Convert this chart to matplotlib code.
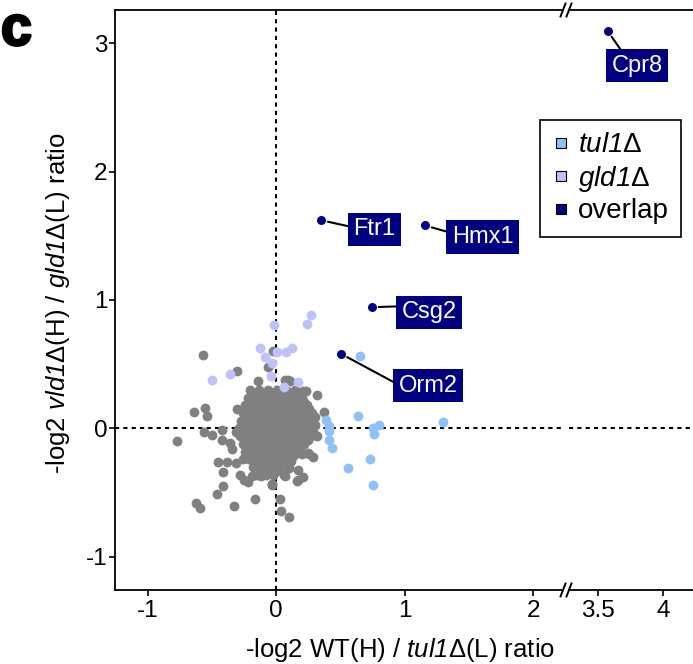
import matplotlib.pyplot as plt
import matplotlib.patheffects as pe
from matplotlib.lines import Line2D

plt.rcParams['font.family'] = ['Liberation Sans', 'DejaVu Sans']
plt.rcParams['mathtext.fontset'] = 'custom'
plt.rcParams['mathtext.rm'] = 'Liberation Sans'
plt.rcParams['mathtext.sf'] = 'Liberation Sans:italic'
plt.rcParams['axes.unicode_minus'] = False

# grey proteins: scattered ones
grey_x = [-0.57, -0.30, -0.14, -0.02, -0.06, 0.09, 0.23, 0.32, 0.37, 0.07,
          0.11, 0.21, -0.17, -0.12, -0.64, -0.55, -0.54, -0.30, -0.77, -0.56,
          -0.50, -0.42, -0.42, -0.36, -0.34, -0.45, -0.38, -0.31, -0.26, -0.41,
          -0.28, -0.25, -0.22, -0.19, -0.12, -0.05, -0.41, -0.46, -0.62, -0.59,
          -0.33, -0.16, -0.03, 0.03, 0.04, 0.10, 0.17, 0.21, 0.17, 0.20,
          0.25, 0.29, 0.32, 0.07, 0.10, 0.12, 0.23, 0.25, 0.26, 0.16,
          0.06, -0.03]
grey_y = [0.57, 0.45, 0.37, 0.60, 0.48, 0.38, 0.29, 0.26, 0.13, 0.38,
          0.37, 0.29, 0.25, 0.24, 0.13, 0.16, 0.10, 0.15, -0.10, -0.03,
          -0.05, -0.01, -0.09, -0.11, -0.16, -0.26, -0.26, -0.27, -0.24, -0.34,
          -0.36, -0.40, -0.42, -0.37, -0.37, -0.34, -0.45, -0.51, -0.58, -0.62,
          -0.60, -0.55, -0.44, -0.55, -0.64, -0.69, -0.40, -0.38, -0.32, -0.20,
          -0.19, -0.22, -0.06, -0.37, -0.31, -0.25, 0.16, 0.12, -0.20, -0.41,
          -0.36, -0.43]

# grey proteins: dense core, one row per y level
core_y = [0.30, 0.27, 0.24, 0.21, 0.18, 0.15, 0.12, 0.09, 0.06, 0.03, 0.00,
          -0.03, -0.06, -0.09, -0.12, -0.15, -0.18, -0.21, -0.24, -0.27,
          -0.30, -0.33, -0.36]
core_x = [
    [-0.20, -0.13, -0.06, 0.01, 0.08, 0.15],
    [-0.165, -0.095, -0.025, 0.045, 0.115, 0.185],
    [-0.22, -0.15, -0.08, -0.01, 0.06, 0.13, 0.20],
    [-0.205, -0.135, -0.065, 0.005, 0.075, 0.145, 0.215],
    [-0.24, -0.17, -0.10, -0.03, 0.04, 0.11, 0.18, 0.24],
    [-0.225, -0.155, -0.085, -0.015, 0.055, 0.125, 0.195, 0.26],
    [-0.26, -0.19, -0.12, -0.05, 0.02, 0.09, 0.16, 0.23, 0.28],
    [-0.235, -0.165, -0.095, -0.025, 0.045, 0.115, 0.185, 0.25, 0.30],
    [-0.27, -0.20, -0.13, -0.06, 0.01, 0.08, 0.15, 0.22, 0.28],
    [-0.255, -0.185, -0.115, -0.045, 0.025, 0.095, 0.165, 0.235, 0.30],
    [-0.29, -0.22, -0.15, -0.08, -0.01, 0.06, 0.13, 0.20, 0.27],
    [-0.31, -0.25, -0.185, -0.115, -0.045, 0.025, 0.095, 0.165, 0.235, 0.29],
    [-0.28, -0.21, -0.14, -0.07, 0.00, 0.07, 0.14, 0.21, 0.27],
    [-0.245, -0.175, -0.105, -0.035, 0.035, 0.105, 0.175, 0.245],
    [-0.26, -0.19, -0.12, -0.05, 0.02, 0.09, 0.16, 0.22],
    [-0.225, -0.155, -0.085, -0.015, 0.055, 0.125, 0.19],
    [-0.24, -0.17, -0.10, -0.03, 0.04, 0.11, 0.17],
    [-0.205, -0.135, -0.065, 0.005, 0.075, 0.14],
    [-0.21, -0.14, -0.07, 0.00, 0.07, 0.12],
    [-0.175, -0.105, -0.035, 0.035, 0.10],
    [-0.18, -0.11, -0.04, 0.03, 0.09],
    [-0.13, -0.06, 0.01],
    [-0.15, -0.08, -0.02],
]

tul1_x = [0.654, 0.635, 0.389, 0.415, 0.415, 0.415, 0.433, 0.563, 0.732, 0.752, 0.752, 0.804, 0.763, 1.297]
tul1_y = [0.563, 0.10, 0.065, 0.018, -0.02, -0.093, -0.15, -0.306, -0.236, -0.436, 0.005, 0.026, -0.041, 0.049]

gld1_x = [0.27, 0.244, -0.016, -0.125, 0.005, 0.075, 0.127, -0.086, -0.034, -0.041, -0.358, -0.5, 0.169, 0.065]
gld1_y = [0.887, 0.817, 0.809, 0.623, 0.597, 0.597, 0.623, 0.555, 0.511, 0.412, 0.426, 0.381, 0.363, 0.324]

overlap_names = ['Ftr1', 'Hmx1', 'Csg2', 'Orm2', 'Cpr8']
overlap_x = [0.35, 1.16, 0.745, 0.506, 3.575]
overlap_y = [1.621, 1.58, 0.944, 0.581, 3.092]

# label box centres and where the leader line meets the box
label_pos = {'Ftr1': (0.765, 1.55), 'Hmx1': (1.607, 1.49), 'Csg2': (1.189, 0.905),
             'Orm2': (1.183, 0.332), 'Cpr8': (3.80, 2.823)}
label_rel = {'Ftr1': (0, 0.59), 'Hmx1': (0, 0.68), 'Csg2': (0, 0.77),
             'Orm2': (0, 0.55), 'Cpr8': (0.25, 1)}

c_grey = '#808080'
c_tul1 = '#8fc0f7'
c_gld1 = '#c0c0fa'
c_over = '#000080'

for row_y, row_x in zip(core_y, core_x):
    grey_x = grey_x + row_x
    grey_y = grey_y + [row_y] * len(row_x)

W, H = 693, 664
fig = plt.figure(figsize=(W / 100, H / 100), dpi=100)
ax1 = fig.add_axes([115 / W, 74 / H, 448 / W, 580 / H])
ax2 = fig.add_axes([569 / W, 74 / H, 124 / W, 580 / H])

for ax in (ax1, ax2):
    ax.axhline(0, color='black', lw=1.5, ls=(0, (2, 2)), zorder=1)
    ax.scatter(grey_x, grey_y, s=50, color=c_grey, lw=0, zorder=2)
    ax.scatter(gld1_x, gld1_y, s=50, color=c_gld1, lw=0, zorder=3)
    ax.scatter(tul1_x, tul1_y, s=50, color=c_tul1, lw=0, zorder=3)
    ax.scatter(overlap_x, overlap_y, s=42, color=c_over, lw=0, zorder=4)
    ax.set_ylim(-1.257, 3.257)
    ax.spines['right'].set_visible(False)
    for s in ('left', 'bottom', 'top'):
        ax.spines[s].set_linewidth(1.3)
    ax.tick_params(direction='out', length=4.3, width=1.2, labelsize=17.5,
                   labelcolor='black')
    ax.tick_params(axis='x', pad=3)
    ax.tick_params(axis='y', pad=1)

ax1.axvline(0, color='black', lw=1.5, ls=(0, (2, 2)), zorder=1)
ax1.set_xlim(-1.253, 2.233)
ax2.set_xlim(3.277, 4.23)
ax1.set_xticks([-1, 0, 1, 2])
ax2.set_xticks([3.5, 4])
ax2.set_xticklabels(['3.5', '4'])
ax1.set_yticks([-1, 0, 1, 2, 3])
ax2.spines['left'].set_visible(False)
ax2.tick_params(left=False, labelleft=False)

ax1.set_xlabel(r'-log2 WT(H) / $\mathsf{tul1}$Δ(L) ratio', fontsize=18.5)
ax1.xaxis.set_label_coords(0.636, -0.079)
ax1.set_ylabel(r'-log2 $\mathsf{vld1}$Δ(H) / $\mathsf{gld1}$Δ(L) ratio', fontsize=18.5)
ax1.yaxis.set_label_coords(-0.095, 0.495)

for name, x, y in zip(overlap_names, overlap_x, overlap_y):
    ax = ax2 if x > 3 else ax1
    ax.annotate(name, xy=(x, y), xytext=label_pos[name], textcoords='data',
                ha='center', va='center', color='white', fontsize=17, zorder=5,
                bbox=dict(boxstyle='square,pad=0.24', fc=c_over, ec='none'),
                arrowprops=dict(arrowstyle='-', color='black', lw=1.5,
                                shrinkA=0, shrinkB=5, relpos=label_rel[name]))

# axis break marks
for cx in (563, 569):
    for py in (10, 590):
        fig.add_artist(Line2D([(cx - 2.5) / W, (cx + 2.5) / W],
                              [1 - (py + 6.5) / H, 1 - (py - 6.5) / H],
                              color='black', lw=1.4, transform=fig.transFigure))

handles = [Line2D([], [], marker='s', ls='none', markersize=7.5, markerfacecolor=c,
                  markeredgecolor='black', markeredgewidth=0.8)
           for c in (c_tul1, c_gld1, c_over)]
labels = [r'$\mathsf{tul1}$Δ', r'$\mathsf{gld1}$Δ', 'overlap']
leg = fig.legend(handles, labels, loc='upper left', bbox_to_anchor=(540 / W, 1 - 120 / H),
                 frameon=True, fancybox=False, edgecolor='black', framealpha=1,
                 fontsize=20, handlelength=0.6, handletextpad=0.3, labelspacing=0.18,
                 borderpad=0.45, borderaxespad=0)
leg.get_frame().set_linewidth(1.2)

fig.text(1 / W, 1 - 45 / H, 'c', fontsize=40, fontweight='bold', va='baseline',
         path_effects=[pe.withStroke(linewidth=2, foreground='black')])

fig.savefig('out.png', dpi=100)
